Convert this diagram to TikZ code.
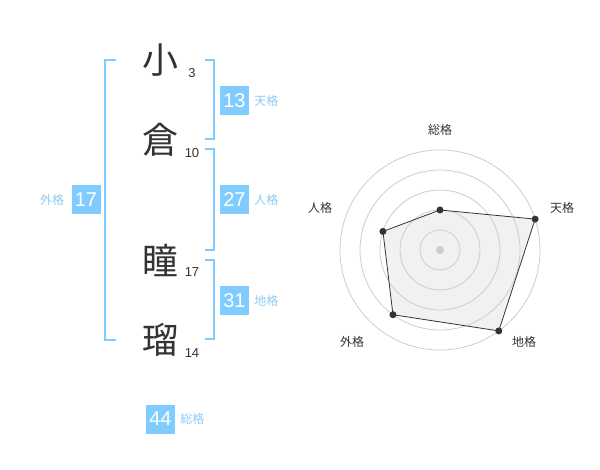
\documentclass[tikz,border=0pt]{standalone}
\usepackage{fontspec}
\setmainfont{Liberation Sans}
\newfontfamily\jp{Noto Sans CJK JP}
\usetikzlibrary{positioning}
\definecolor{skyblue}{HTML}{80CCFF}
\definecolor{labelblue}{HTML}{8CCBF2}
\definecolor{ringgray}{HTML}{CCCCCC}
\definecolor{plotfill}{HTML}{E4E4E4}
\definecolor{plotline}{HTML}{333333}

\begin{document}
\begin{tikzpicture}[x=1pt, y=-1pt,
  kanji/.style={font=\jp\fontsize{36}{36}\selectfont, text=plotline, inner sep=0pt},
  strokes/.style={font=\fontsize{13}{13}\selectfont, text=plotline, inner sep=0pt},
  score/.style={fill=skyblue, text=white, minimum size=29pt, inner sep=0pt, font=\fontsize{20}{20}\selectfont},
  kaku/.style={text=labelblue, font=\jp\fontsize{12}{12}\selectfont, inner sep=0pt},
  bracket/.style={draw=skyblue, line width=2pt},
  ring/.style={draw=ringgray, line width=0.8pt},
  axis/.style={font=\jp\fontsize{12}{12}\selectfont, text=plotline, inner sep=0pt}]

  \useasboundingbox (0,0) rectangle (600,470);

  % name and stroke counts
  \node[kanji] (c1) at (160,60) {小};
  \node[kanji] (c2) at (160,140) {倉};
  \node[kanji] (c3) at (160,260) {瞳};
  \node[kanji] (c4) at (160,340) {瑠};
  \node[strokes] (s1) at (192,73) {3};
  \node[strokes] (s2) at (192,153) {10};
  \node[strokes] (s3) at (192,272) {17};
  \node[strokes] (s4) at (192,353) {14};

  % brackets
  \draw[bracket] (116,60) -- (105,60) -- (105,340) -- (116,340);
  \draw[bracket] (205,60) -- (214,60) -- (214,139) -- (205,139);
  \draw[bracket] (205,149) -- (214,149) -- (214,250) -- (205,250);
  \draw[bracket] (205,260) -- (214,260) -- (214,339) -- (205,339);

  % scores
  \node[score] (ten) at (234.5,100.5) {13};
  \node[kaku, right=5pt of ten] (tenlabel) {天格};
  \node[score] (jin) at (234.5,200) {27};
  \node[kaku, right=5pt of jin] (jinlabel) {人格};
  \node[score] (chi) at (234.5,300.5) {31};
  \node[kaku, right=5pt of chi] (chilabel) {地格};
  \node[score] (gai) at (86,200) {17};
  \node[kaku, left=7pt of gai] (gailabel) {外格};
  \node[score] (sou) at (160.5,419) {44};
  \node[kaku, right=5pt of sou] (soulabel) {総格};

  % radar chart
  \begin{scope}[shift={(440,250)}]
    \coordinate (r-sou) at (-90:40);
    \coordinate (r-ten) at (-18:100);
    \coordinate (r-chi) at (54:100);
    \coordinate (r-gai) at (126:80);
    \coordinate (r-jin) at (-162:60);
    \fill[plotfill, fill opacity=0.5] (r-sou) -- (r-ten) -- (r-chi) -- (r-gai) -- (r-jin) -- cycle;
    \foreach \r in {20,40,...,100}
      \draw[ring] (0,0) circle (\r pt);
    \draw[plotline, line width=0.8pt] (r-sou) -- (r-ten) -- (r-chi) -- (r-gai) -- (r-jin) -- cycle;
    \foreach \p in {sou,ten,chi,gai,jin}
      \fill[plotline] (r-\p) circle (3.5pt);
    \fill[ringgray] (0,0) circle (4pt);
    \node[axis] (a-sou) at (0,-120) {総格};
    \node[axis] (a-ten) at (122,-42) {天格};
    \node[axis] (a-chi) at (84,92) {地格};
    \node[axis] (a-gai) at (-88,92) {外格};
    \node[axis] (a-jin) at (-120,-42) {人格};
  \end{scope}
\end{tikzpicture}
\end{document}
